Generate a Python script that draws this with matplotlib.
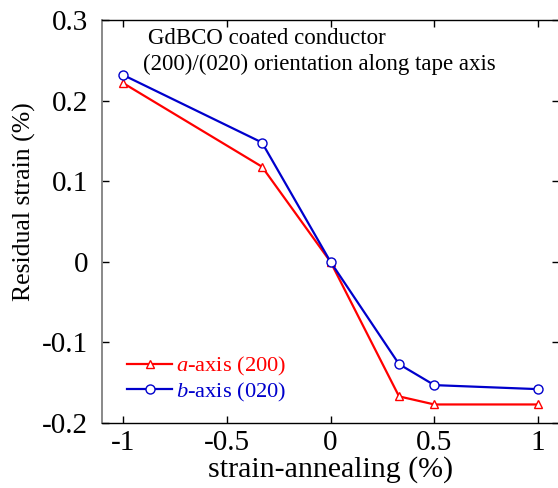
import matplotlib
matplotlib.use("Agg")
import matplotlib.pyplot as plt

plt.rcParams['font.family'] = ['Liberation Serif', 'DejaVu Serif']
plt.rcParams['mathtext.fontset'] = 'custom'
plt.rcParams['mathtext.rm'] = 'Liberation Serif'
plt.rcParams['mathtext.it'] = 'Liberation Serif:italic'

x_vals = [-1.0, -0.33, 0.0, 0.33, 0.5, 1.0]
a_axis = [0.222, 0.118, 0.0, -0.167, -0.177, -0.177]
b_axis = [0.232, 0.148, 0.0, -0.127, -0.153, -0.158]
xticks = [-1, -0.5, 0, 0.5, 1]
xticklabels = ['-1', '-0.5', '0', '0.5', '1']
yticks = [-0.2, -0.1, 0, 0.1, 0.2, 0.3]
yticklabels = ['-0.2', '-0.1', '0', '0.1', '0.2', '0.3']

W, H = 558, 488
fig = plt.figure(figsize=(W/100, H/100), dpi=100)
ax = fig.add_axes([102/W, 65/H, 457/W, 403/H])

ax.plot(x_vals, a_axis, color='#ff0000', lw=1.6, marker='^', ms=6,
        mfc='white', mec='#ff0000', mew=1.0, label=r'$\mathit{a}$-axis (200)')
ax.plot(x_vals, b_axis, color='#0000cc', lw=1.6, marker='o', ms=6.5,
        mfc='white', mec='#0000cc', mew=1.0, label=r'$\mathit{b}$-axis (020)')

ax.set_xlim(-1.1, 1.1)
ax.set_ylim(-0.2, 0.3)
ax.set_xticks(xticks)
ax.set_xticklabels(xticklabels)
ax.set_yticks(yticks)
ax.set_yticklabels(yticklabels)
ax.tick_params(direction='in', length=5, width=1, labelsize=21, top=True, right=True)
ax.tick_params(axis='x', pad=5)
ax.tick_params(axis='y', pad=10)
ax.spines['left'].set_color('#808080')
ax.spines['left'].set_linewidth(1.3)
for s in ['bottom', 'top']:
    ax.spines[s].set_linewidth(1.0)
ax.spines['right'].set_visible(False)

ax.set_xlabel('strain-annealing (%)', fontsize=21.5, labelpad=0)
ax.set_ylabel('Residual strain (%)', fontsize=18.5)
ax.yaxis.set_label_coords(-0.145, 0.55)

ax.text(148/W, 1 - 39/H, 'GdBCO coated conductor', transform=fig.transFigure,
        fontsize=16.5, va='center', ha='left')
ax.text(143/W, 1 - 64/H, '(200)/(020) orientation along tape axis',
        transform=fig.transFigure, fontsize=16.5, va='center', ha='left')

leg = ax.legend(loc='upper left', bbox_to_anchor=(0.055, 0.168), frameon=False,
                fontsize=16.2, handlelength=2.0, handletextpad=0.15, borderpad=0,
                borderaxespad=0, labelspacing=0.1, labelcolor='linecolor')

fig.savefig('out.png', dpi=100)
